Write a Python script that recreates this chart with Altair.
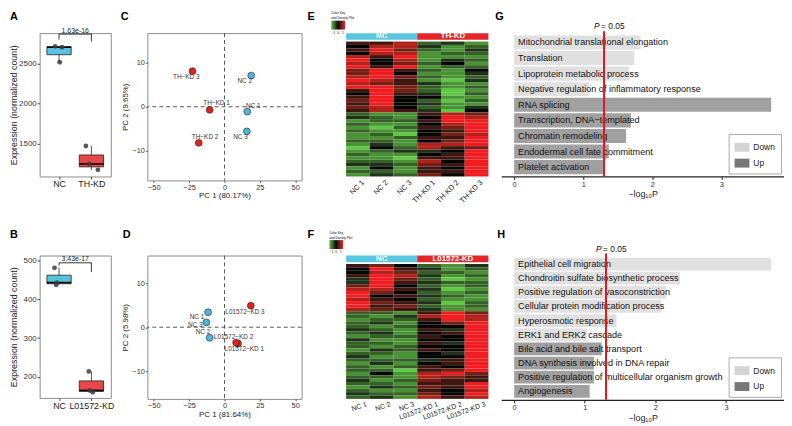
import altair as alt
import pandas as pd

FONT = "Liberation Sans"

# ---------------- A / B : expression box plots ----------------
A_groups = ["NC", "TH-KD"]
A_nc = [2721, 2710, 2521]
A_kd = [1467, 1242, 1167]
A_nc_jitter = [-0.12, 0.09, 0.02]
A_kd_jitter = [-0.17, -0.07, 0.20]
A_pvalue = "1.63e-16"
A_bracket = [2875, 2806, 2780]
A_yticks = [1500, 2000, 2500]

B_groups = ["NC", "L01572-KD"]
B_nc = [481, 443, 437]
B_kd = [214, 165, 160]
B_nc_jitter = [-0.14, -0.06, -0.09]
B_kd_jitter = [-0.08, -0.05, 0.04]
B_pvalue = "3.43e-17"
B_bracket = [494, 487, 470]
B_yticks = [200, 300, 400, 500]

# ---------------- C / D : PCA ----------------
C_samples = ["NC 1", "NC 2", "NC 3", "TH\u2212KD 1", "TH\u2212KD 2", "TH\u2212KD 3"]
C_group = ["NC", "NC", "NC", "KD", "KD", "KD"]
C_pc1 = [16.1, 18.9, 15.8, -10.5, -18.2, -22.6]
C_pc2 = [-1.1, 7.1, -5.6, -0.7, -8.2, 8.1]
C_label_pc1 = [20.4, 14.3, 11.3, -5.6, -13.7, -27.0]
C_label_pc2 = [0.1, 5.8, -6.9, 0.8, -6.9, 6.8]

D_samples = ["NC 1", "NC 2", "NC 3", "L01572\u2212KD 1", "L01572\u2212KD 2", "L01572\u2212KD 3"]
D_group = ["NC", "NC", "NC", "KD", "KD", "KD"]
D_pc1 = [-11.6, -10.5, -12.8, 9.6, 8.2, 18.6]
D_pc2 = [3.4, -2.4, 1.1, -3.7, -3.5, 4.9]
D_label_pc1 = [-19.4, -15.2, -20.7, 14.0, 6.4, 14.5]
D_label_pc2 = [2.4, -1.0, 0.5, -5.0, -2.3, 3.5]

# ---------------- E / F : heatmaps (level 0 = -1.5 green ... 4 = 0 black ... 8 = +1.5 red) ----------------
E_cols = ["NC 1", "NC 2", "NC 3", "TH-KD 1", "TH-KD 2", "TH-KD 3"]
E_groups = ["NC", "TH-KD"]
E_rows = [
    "557231", "477312", "586213", "477122", "758111", "847132", "746241", "858122",
    "685214", "684113", "786212", "875103", "765311", "886212", "586201", "485302",
    "584411", "684202", "584311", "674213", "575304",
    "211576", "321487", "122588", "211478", "102568", "211458", "120467", "112558",
    "221468", "131778", "042756", "123348", "211458", "110558", "221748", "332658",
    "141548", "221558", "132648",
]
F_cols = ["NC 1", "NC 2", "NC 3", "L01572-KD 1", "L01572-KD 2", "L01572-KD 3"]
F_groups = ["NC", "L01572-KD"]
F_rows = [
    "564213", "485312", "476221", "587312", "386201", "385322", "684212", "775301",
    "864212", "845321", "754211", "865302", "856212", "765311",
    "221586", "213787", "122587", "231468", "212448", "321538", "231458", "122548",
    "311448", "221538", "212448", "132548", "221438", "311448", "222358", "131458",
    "212548", "220568", "141786", "221765", "312655", "221558", "132658", "211547",
    "322648", "231757",
]

# ---------------- G / H : GO enrichment ----------------
G_terms = [
    "Mitochondrial translational elongation", "Translation", "Lipoprotein metabolic process",
    "Negative regulation of inflammatory response", "RNA splicing", "Transcription, DNA\u2212templated",
    "Chromatin remodeling", "Endodermal cell fate commitment", "Platelet activation",
]
G_values = [1.83, 1.74, 1.66, 1.09, 3.72, 1.69, 1.62, 1.37, 1.30]
G_direction = ["Down", "Down", "Down", "Down", "Up", "Up", "Up", "Up", "Up"]

H_terms = [
    "Epithelial cell migration", "Chondroitin sulfate biosynthetic process",
    "Positive regulation of vasoconstriction", "Cellular protein modification process",
    "Hyperosmotic response", "ERK1 and ERK2 cascade", "Bile acid and bile salt transport",
    "DNA synthesis involved in DNA repair", "Positive regulation of multicellular organism growth",
    "Angiogenesis",
]
H_values = [3.64, 2.35, 2.15, 2.08, 1.45, 1.03, 1.24, 1.13, 1.13, 1.07]
H_direction = ["Down", "Down", "Down", "Down", "Down", "Down", "Up", "Up", "Up", "Up"]

P_threshold = 0.05

FRAME = alt.ViewBackground(stroke="#8c8c8c", strokeWidth=1)


def letter_layer(letter, x, y):
    return alt.Chart(pd.DataFrame({"t": [letter]})).mark_text(
        align="left", baseline="top", fontSize=11, fontWeight="bold", color="black"
    ).encode(text="t:N", x=alt.value(x), y=alt.value(y))


def box_panel(groups, nc, kd, nc_j, kd_j, pval, bracket, ydom, yticks, height,
              letter, lx, ly, title_pad):
    df = pd.DataFrame({
        "group": [groups[0]] * len(nc) + [groups[1]] * len(kd),
        "pos": [1] * len(nc) + [2] * len(kd),
        "value": nc + kd,
        "jit": nc_j + kd_j,
    })
    xs = alt.Scale(domain=[0.4, 2.6], nice=False, zero=False)
    ys = alt.Scale(domain=ydom, nice=False, zero=False)
    xax = alt.Axis(values=[1, 2], labelExpr=f"datum.value == 1 ? '{groups[0]}' : '{groups[1]}'",
                   title=None, labelFontSize=9, labelColor="#1a1a1a", tickColor="#444",
                   tickSize=2.5, labelPadding=1, domain=False, grid=False)
    yax = alt.Axis(values=yticks, format="d", title="Expression (normalized count)", titleFontSize=9,
                   titleFontWeight="normal", titleColor="#1a1a1a", titlePadding=title_pad,
                   labelFontSize=8, labelColor="#333", tickColor="#444", tickSize=2.5,
                   labelPadding=1, domain=False, grid=False)
    fill = alt.Fill("group:N", scale=alt.Scale(domain=groups, range=["#57c3df", "#e8474a"]), legend=None)
    base = alt.Chart(df)
    stats = base.transform_aggregate(
        q1="q1(value)", med="median(value)", q3="q3(value)", lo="min(value)", hi="max(value)",
        groupby=["group", "pos"],
    ).transform_calculate(xl="datum.pos - 0.375", xr="datum.pos + 0.375")
    whisk = stats.mark_rule(color="#222", strokeWidth=0.8).encode(
        x=alt.X("pos:Q", scale=xs, axis=xax), y=alt.Y("lo:Q", scale=ys, axis=yax), y2="hi:Q")
    box = stats.mark_rect(stroke="#222", strokeWidth=0.8).encode(
        x=alt.X("xl:Q", scale=xs, axis=xax), x2="xr:Q",
        y=alt.Y("q1:Q", scale=ys, axis=yax), y2="q3:Q", fill=fill)
    med = stats.mark_rule(color="black", strokeWidth=1.6).encode(
        x=alt.X("xl:Q", scale=xs, axis=xax), x2="xr:Q", y=alt.Y("med:Q", scale=ys, axis=yax))
    pts = base.transform_calculate(xj="datum.pos + datum.jit").mark_circle(
        size=24, color="#3c3c3c", opacity=0.85).encode(
        x=alt.X("xj:Q", scale=xs, axis=xax), y=alt.Y("value:Q", scale=ys, axis=yax))
    brk_df = pd.DataFrame({"x": [1, 1, 2], "x2": [2, 1, 2],
                           "y": [bracket[0]] * 3, "y2": [bracket[0], bracket[1], bracket[2]]})
    brk = alt.Chart(brk_df).mark_rule(color="black", strokeWidth=0.8).encode(
        x=alt.X("x:Q", scale=xs, axis=xax), x2="x2:Q",
        y=alt.Y("y:Q", scale=ys, axis=yax), y2="y2:Q")
    ptxt = alt.Chart(pd.DataFrame({"x": [1.5], "y": [bracket[0]], "t": [pval]})).mark_text(
        baseline="bottom", dy=-0.5, fontSize=7, color="#1a1a1a").encode(
        x=alt.X("x:Q", scale=xs, axis=xax), y=alt.Y("y:Q", scale=ys, axis=yax), text="t:N")
    return alt.layer(whisk, box, med, pts, brk, ptxt, letter_layer(letter, lx, ly)).properties(
        width=72, height=height, view=FRAME)


def pca_panel(samples, group, pc1, pc2, lx_, ly_, xtitle, ytitle, ydom, height, letter, lx, ly):
    df = pd.DataFrame(dict(sample=samples, group=group, pc1=pc1, pc2=pc2, lx=lx_, ly=ly_))
    xs = alt.Scale(domain=[-54.5, 54.5], nice=False, zero=False)
    ys = alt.Scale(domain=ydom, nice=False, zero=False)
    xax = alt.Axis(values=[-50, -25, 0, 25, 50], title=xtitle, titleFontSize=8,
                   titleFontWeight="normal", titleColor="#1a1a1a", titlePadding=1,
                   labelFontSize=7.5, labelColor="#333", tickColor="#555", tickSize=2,
                   labelPadding=1, domain=False, grid=False)
    yax = alt.Axis(values=[-10, 0, 10], title=ytitle, titleFontSize=8,
                   titleFontWeight="normal", titleColor="#1a1a1a", titlePadding=2,
                   labelFontSize=7.5, labelColor="#333", tickColor="#555", tickSize=2,
                   labelPadding=1, domain=False, grid=False)
    zero = pd.DataFrame({"v": [0]})
    vline = alt.Chart(zero).mark_rule(color="#555", strokeDash=[4, 3], strokeWidth=1).encode(
        x=alt.X("v:Q", scale=xs, axis=xax))
    hline = alt.Chart(zero).mark_rule(color="#555", strokeDash=[4, 3], strokeWidth=1).encode(
        y=alt.Y("v:Q", scale=ys, axis=yax))
    base = alt.Chart(df)
    pts = base.mark_circle(size=48, stroke="#222", strokeWidth=0.6, opacity=1).encode(
        x=alt.X("pc1:Q", scale=xs, axis=xax), y=alt.Y("pc2:Q", scale=ys, axis=yax),
        fill=alt.Fill("group:N", scale=alt.Scale(domain=["NC", "KD"], range=["#4db5de", "#e3221c"]),
                      legend=None))
    labs = base.mark_text(fontSize=6.5, color="#333").encode(
        x=alt.X("lx:Q", scale=xs, axis=xax), y=alt.Y("ly:Q", scale=ys, axis=yax), text="sample:N")
    return alt.layer(vline, hline, pts, labs, letter_layer(letter, lx, ly)).properties(
        width=156, height=height, view=FRAME)


def heat_panel(rows, cols, groups, angle, align, baseline, lpad, loff, lfont,
               keyx, keyy, letter, lx, ly):
    recs = []
    for i, r in enumerate(rows):
        for j, ch in enumerate(r):
            recs.append({"row": i, "col": j, "z": (int(ch) - 4) * 0.375})
    df = pd.DataFrame(recs)
    xs = alt.Scale(domain=[0, 6], nice=False, zero=False)
    ys = alt.Scale(domain=[-2.5, len(rows)], nice=False, zero=False, reverse=True)
    names = "[" + ",".join("'%s'" % c for c in cols) + "]"
    xax = alt.Axis(values=[0.5, 1.5, 2.5, 3.5, 4.5, 5.5], labelExpr=names + "[floor(datum.value)]",
                   title=None, labelAngle=angle, labelAlign=align, labelBaseline=baseline,
                   labelPadding=lpad, labelOffset=loff, labelFontSize=lfont, labelColor="#222",
                   labelOverlap=False, labelBound=False, labelFlush=False,
                   ticks=False, domain=False, grid=False)
    heat = alt.Chart(df).transform_calculate(c2="datum.col + 1", r2="datum.row + 1").mark_rect(
        strokeWidth=0).encode(
        x=alt.X("col:Q", scale=xs, axis=xax), x2="c2:Q",
        y=alt.Y("row:Q", scale=ys, axis=None), y2="r2:Q",
        color=alt.Color("z:Q", scale=alt.Scale(domain=[-1.5, 0, 1.5],
                                               range=["#5fc842", "#050505", "#f01c20"], clamp=True),
                        legend=alt.Legend(orient="none", legendX=keyx, legendY=keyy,
                                          direction="horizontal", title=["Color Key", "and Density Plot"],
                                          titleFontSize=3.2, titleFontWeight="normal", titlePadding=1,
                                          labelFontSize=3.2, gradientLength=14, gradientThickness=9,
                                          values=[-1, 0, 1], labelOffset=1, padding=0)))
    gdf = pd.DataFrame({"group": groups, "start": [0, 3], "end": [3, 6]})
    gbar = alt.Chart(gdf).mark_rect().encode(
        x=alt.X("start:Q", scale=xs, axis=xax), x2="end:Q",
        y=alt.YDatum(-2.5, scale=ys, axis=None), y2=alt.datum(-0.5),
        fill=alt.Fill("group:N", scale=alt.Scale(domain=groups, range=["#5bc6e0", "#e4262a"]),
                      legend=None))
    gtxt = alt.Chart(gdf).transform_calculate(mid="(datum.start + datum.end) / 2").mark_text(
        fontSize=8, fontWeight="bold", color="white", baseline="middle").encode(
        x=alt.X("mid:Q", scale=xs, axis=xax), y=alt.YDatum(-1.5, scale=ys, axis=None), text="group:N")
    return alt.layer(heat, gbar, gtxt, letter_layer(letter, lx, ly)).properties(width=144, height=145)


def go_panel(terms, values, direction, domain, height, letter, lx, ly):
    df = pd.DataFrame(dict(term=terms, val=values, dir=direction))
    xs = alt.Scale(domain=domain, nice=False, zero=False)
    ys = alt.Scale(domain=terms, paddingInner=0.1, paddingOuter=0.15)
    xax = alt.Axis(values=[0, 1, 2, 3], title="\u2212log\u2081\u2080P", titleFontSize=9,
                   titleFontWeight="normal", titleColor="#1a1a1a", titlePadding=2,
                   labelFontSize=7.5, labelColor="#333", tickColor="#222", tickSize=3,
                   labelPadding=1, domain=True, domainColor="#222", domainWidth=1.2, grid=False)
    bars = alt.Chart(df).mark_bar(opacity=0.7).encode(
        x=alt.X("val:Q", scale=xs, axis=xax), x2=alt.datum(0),
        y=alt.Y("term:N", scale=ys, axis=None),
        color=alt.Color("dir:N", scale=alt.Scale(domain=["Down", "Up"], range=["#d3d3d3", "#777777"]),
                        legend=alt.Legend(orient="bottom-right", offset=3, title=None, labelFontSize=8.5,
                                          labelColor="#222", symbolType="M-1,-0.6H1V0.6H-1Z",
                                          symbolSize=225, symbolOpacity=1, symbolStrokeWidth=0,
                                          strokeColor="#aaaaaa", fillColor="white", padding=6,
                                          rowPadding=4, labelOffset=4)))
    txt = alt.Chart(df).mark_text(align="left", baseline="middle", dx=4, fontSize=9.2, color="#111").encode(
        x=alt.XDatum(0, scale=xs, axis=xax), y=alt.Y("term:N", scale=ys, axis=None), text="term:N")
    thr = alt.Chart(pd.DataFrame({"p": [P_threshold]})).transform_calculate(
        lp="-log(datum.p) / LN10")
    line = thr.mark_rule(color="#e8161c", strokeWidth=2).encode(
        x=alt.X("lp:Q", scale=xs, axis=xax), y=alt.value(-2), y2=alt.value(height))
    p1 = thr.mark_text(fontStyle="italic", align="right", baseline="middle", dx=-4.5, fontSize=8.5,
                       color="#111").encode(x=alt.X("lp:Q", scale=xs, axis=xax), y=alt.value(-7),
                                            text=alt.value("P"))
    p2 = thr.mark_text(align="left", baseline="middle", dx=-3, fontSize=8.5, color="#111").encode(
        x=alt.X("lp:Q", scale=xs, axis=xax), y=alt.value(-7), text=alt.value("= 0.05"))
    return alt.layer(bars, txt, line, p1, p2, letter_layer(letter, lx, ly)).properties(
        width=286, height=height)


def spacer(w):
    return alt.Chart(pd.DataFrame({"s": [0]})).mark_point(opacity=0).encode(
        x=alt.value(0), y=alt.value(0)).properties(width=w, height=10)


A = box_panel(A_groups, A_nc, A_kd, A_nc_jitter, A_kd_jitter, A_pvalue, A_bracket,
              [1084, 2887], A_yticks, 145, "A", -30, -22, 0.5)
B = box_panel(B_groups, B_nc, B_kd, B_nc_jitter, B_kd_jitter, B_pvalue, B_bracket,
              [145.7, 512.7], B_yticks, 144, "B", -30, -27, 5)
C = pca_panel(C_samples, C_group, C_pc1, C_pc2, C_label_pc1, C_label_pc2,
              "PC 1 (80.17%)", "PC 2 (9.65%)", [-16.75, 16.75], 149, "C", -27, -22)
D = pca_panel(D_samples, D_group, D_pc1, D_pc2, D_label_pc1, D_label_pc2,
              "PC 1 (81.64%)", "PC 2 (5.98%)", [-16.3, 16.3], 145, "D", -25, -27)
E = heat_panel(E_rows, E_cols, E_groups, -45, "right", "top", 2, 2, 7.5, -15, -22, "E", -39, -22)
F = heat_panel(F_rows, F_cols, F_groups, -20, "right", "top", 1, 7, 7, -17, -25, "F", -39, -27)
G = go_panel(G_terms, G_values, G_direction, [-0.186, 3.906], 145, "G", -6, -22)
H = go_panel(H_terms, H_values, H_direction, [-0.182, 3.822], 146, "H", -4, -27)

chart = alt.concat(
    A, spacer(11), C, spacer(19), E, G,
    B, spacer(11), D, spacer(19), F, H,
    columns=6, spacing={"row": 76, "column": 13}, bounds="flush", align="each",
).resolve_scale(color="independent", fill="independent").properties(padding=0).configure(
    font=FONT).configure_view(stroke=None)

chart.save("out.html", embed_options={"renderer": "svg", "actions": False})
